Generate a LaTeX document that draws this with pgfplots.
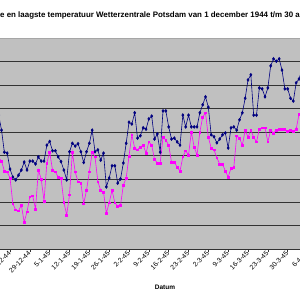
\documentclass[border=0pt]{standalone}
\usepackage{pgfplots}
\usepackage{pgfplotstable}
\pgfplotsset{compat=1.18}
\usepackage{fontspec}
\setmainfont{Liberation Sans}
\definecolor{plotgray}{RGB}{192,192,192}
\definecolor{navyc}{RGB}{0,0,128}
\definecolor{magc}{RGB}{255,0,255}

\pgfplotstableread{
d t
17 8.6
18 5.4
19 0.7
20 0.5
21 -2.9
22 -4.6
23 -5.2
24 -4.2
25 -3.1
26 -1.4
27 -3.1
28 -1.2
29 -1.2
30 -1.8
31 -0.3
32 -1.2
33 -1.2
34 2.2
35 3.0
36 1.0
37 1.0
38 -0.3
39 -1.3
40 -3.1
41 -5.2
42 0.8
43 2.6
44 2.0
45 2.5
46 0.8
47 -1.5
48 0.8
49 2.6
50 5.4
51 0.8
52 1.2
53 -1.0
54 0.5
55 -6.7
56 -4.8
57 -2.2
58 -2.2
59 -5.9
60 -5.0
61 -1.6
62 2.6
63 7.1
64 6.7
65 9.1
66 3.7
67 4.2
68 5.9
69 5.6
70 7.8
71 8.4
72 3.5
73 4.6
74 0.7
75 9.5
76 9.5
77 6.1
78 3.5
79 3.7
80 2.9
81 2.2
82 8.6
83 6.1
84 8.6
85 6.1
86 6.1
87 6.1
88 9.1
89 10.8
90 12.5
91 10.3
92 4.4
93 4.0
94 2.7
95 3.5
96 4.4
97 4.8
98 1.6
99 5.9
100 6.1
101 5.4
102 7.6
103 9.1
104 12.2
105 16.1
106 17.2
107 8.6
108 8.6
109 14.4
110 14.2
111 12.5
112 14.4
113 19.1
114 20.6
115 20.1
116 20.6
117 18.2
118 14.2
119 14.2
120 12.2
121 11.6
122 15.5
123 16.3
124 18.2
}\tmax

\pgfplotstableread{
d t
17 -0.5
18 -1.2
19 -3.3
20 -3.5
21 -4.8
22 -10.3
23 -11.6
24 -11.8
25 -10.6
26 -14.2
27 -12.0
28 -8.8
29 -8.6
30 -11.4
31 -3.1
32 -5.0
33 -9.7
34 -1.6
35 0.7
36 -3.1
37 -3.5
38 -4.6
39 -4.8
40 -9.9
41 -12.7
42 -8.4
43 0.7
44 -3.5
45 -5.6
46 -5.9
47 -10.3
48 -7.4
49 -3.5
50 0.7
51 -0.3
52 -5.6
53 -7.4
54 -7.8
55 -12.3
56 -10.1
57 -7.4
58 -10.1
59 -10.8
60 -10.6
61 -6.3
62 -4.8
63 -0.1
64 4.4
65 1.6
66 1.2
67 1.8
68 2.2
69 0.5
70 2.9
71 2.2
72 -0.8
73 -1.6
74 -1.6
75 3.9
76 3.3
77 2.2
78 -1.4
79 -1.4
80 -2.5
81 -3.3
82 -0.3
83 1.0
84 0.1
85 5.0
86 1.8
87 0.1
88 5.0
89 8.2
90 9.1
91 3.9
92 1.6
93 1.2
94 -0.5
95 -1.8
96 -1.8
97 -3.3
98 -4.6
99 -2.7
100 -2.5
101 4.2
102 3.7
103 2.2
104 5.4
105 3.9
106 5.4
107 3.9
108 2.9
109 5.6
110 5.9
111 5.9
112 2.9
113 5.4
114 4.8
115 5.4
116 5.6
117 5.6
118 5.6
119 5.2
120 5.4
121 5.2
122 5.6
123 8.8
124 9.2
}\tmin

\begin{document}
\begin{tikzpicture}
\begin{axis}[
  at={(-52.3bp,50.7bp)}, anchor=south west,
  scale only axis, width=434.6bp, height=211.1bp,
  xmin=-1, xmax=152.4, ymin=-20, ymax=25,
  axis background/.style={fill=plotgray},
  axis x line=bottom, axis y line=left,
  axis line style={-, draw=black!80, line width=0.7bp},
  xtick={21,28,...,126},
  xticklabels={22-12-44,29-12-44,5-1-45,12-1-45,19-1-45,26-1-45,2-2-45,9-2-45,16-2-45,23-2-45,2-3-45,9-3-45,16-3-45,23-3-45,30-3-45,6-4-45},
  xticklabel style={rotate=45, anchor=east, font=\fontsize{6.8}{7}\selectfont, inner sep=0.5pt},
  ytick={-15,-10,...,20},
  yticklabels={},
  extra y ticks={25}, extra y tick labels={},
  extra y tick style={grid style={gray!70, line width=0.7bp}},
  ymajorgrids, grid style={black!80, line width=0.7bp},
  tick align=outside, major tick length=2.5bp,
  ytick style={draw=none},
  xtick style={black!80, line width=0.6bp},
  xlabel={Datum},
  xlabel style={font=\bfseries\fontsize{6.5}{7}\selectfont, at={(axis description cs:0.5,0)}, anchor=base, yshift=-39.7bp},
]
\addplot[navyc, line width=0.6bp, mark=diamond*, mark size=1.4pt, mark options={solid, fill=navyc}] table[x=d, y=t] {\tmax};
\addplot[magc, line width=0.6bp, mark=square*, mark size=0.9pt, mark options={solid, fill=magc}] table[x=d, y=t] {\tmin};
\end{axis}
\node[anchor=base west, inner sep=0pt, font=\bfseries\fontsize{7.95}{9}\selectfont] at (0bp,282.7bp) {\llap{Hoogst}e en laagste temperatuur Wetterzentrale Potsdam van 1 december 1944 t/m 30 ap\rlap{ril 1945}};
\pgfresetboundingbox
\useasboundingbox (0bp,0bp) rectangle (300bp,300bp);
\end{tikzpicture}
\end{document}
